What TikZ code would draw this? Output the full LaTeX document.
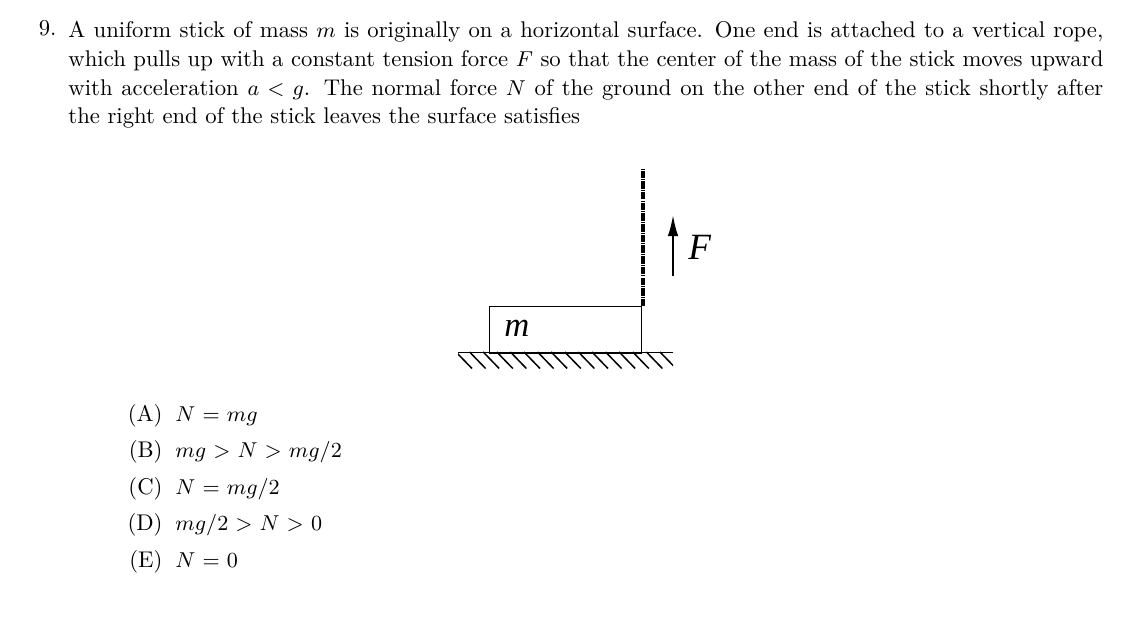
\documentclass[tikz,border=0pt]{standalone}
\usepackage[no-math]{fontspec}
\usetikzlibrary{arrows.meta}
\newfontfamily\figfont{Liberation Serif}
\newlength{\pxu}
\setlength{\pxu}{0.4184pt}
\newcommand{\bodyfont}{\fontsize{9.5}{12}\selectfont}
\tikzset{
  x=\pxu, y=-\pxu,
  every node/.style={font=\bodyfont},
  optlabel/.style={anchor=base east, inner sep=0pt},
  optmath/.style={anchor=base west, inner sep=0pt, execute at begin node={\thickmuskip=5.75mu}},
  thinline/.style={line width=1.1\pxu, black},
  ropeline/.style={line width=4\pxu, black, dash pattern=on 7.5\pxu off 1.1\pxu on 1\pxu off 1.1\pxu},
  forcearrow/.style={line width=2\pxu, black, -{Latex[length=8.8pt,width=4.4pt]}},
  hatchline/.style={line width=1.5\pxu, black},
  bodylabel/.style={inner sep=0pt, font=\figfont\itshape\fontsize{14.5}{16}\selectfont}
}
\begin{document}
\begin{tikzpicture}
\useasboundingbox (0,0) rectangle (1144,621);
% Problem text
\node[anchor=base east, inner sep=0pt] (num) at (57,36) {9.};
\node[anchor=north west, inner sep=0pt, text width=433pt, align=justify] (stem) at (68,21) {%
\parfillskip=0pt A uniform stick of mass $m$ is originally on a horizontal surface. One end is attached to a vertical rope,\linebreak
which pulls up with a constant tension force $F$ so that the center of the mass of the stick moves upward\linebreak
with acceleration $a<g$. The normal force $N$ of the ground on the other end of the stick shortly after\linebreak
\hbox{the right end of the stick leaves the surface satisfies}\hfill\hbox{}\par};
% Figure
\node[draw, thinline, minimum width=152\pxu, minimum height=46\pxu, inner sep=0pt, anchor=north west] (stick) at (489,306) {};
\node[bodylabel, anchor=base west] (mlabel) at (504,337) {m};
\coordinate (ropetop) at (642.5,169);
\coordinate (ropebot) at (642.5,306.5);
\draw[ropeline] (ropebot) -- (ropetop);
\coordinate (ftail) at (673,276);
\coordinate (fhead) at (673,215);
\draw[forcearrow] (ftail) -- (fhead);
\node[bodylabel, anchor=base west] (flabel) at (688,260) {\fontsize{15.5}{16}\selectfont F};
% Ground
\coordinate (gl) at (458,352.5);
\coordinate (gr) at (673,352.5);
\draw[thinline] (gl) -- (gr);
\draw[line width=1.6\pxu] (stick.south west) -- (stick.south east);
\begin{scope}
\clip (458,352) rectangle (673,369);
\foreach \k in {0,...,16} {
  \draw[hatchline] (456+13.6*\k,352) -- ++(16,16.5);
}
\end{scope}
% Options
\node[optlabel] (la) at (163,422) {(A)};
\node[optmath] (ma) at (175,422) {$N=mg$};
\node[optlabel] (lb) at (163,458) {(B)};
\node[optmath] (mb) at (175,458) {$mg>N>mg/2$};
\node[optlabel] (lc) at (163,495) {(C)};
\node[optmath] (mc) at (175,495) {$N=mg/2$};
\node[optlabel] (ld) at (163,531) {(D)};
\node[optmath] (md) at (175,531) {$mg/2>N>0$};
\node[optlabel] (le) at (163,568) {(E)};
\node[optmath] (me) at (175,568) {$N=0$};
\end{tikzpicture}
\end{document}
